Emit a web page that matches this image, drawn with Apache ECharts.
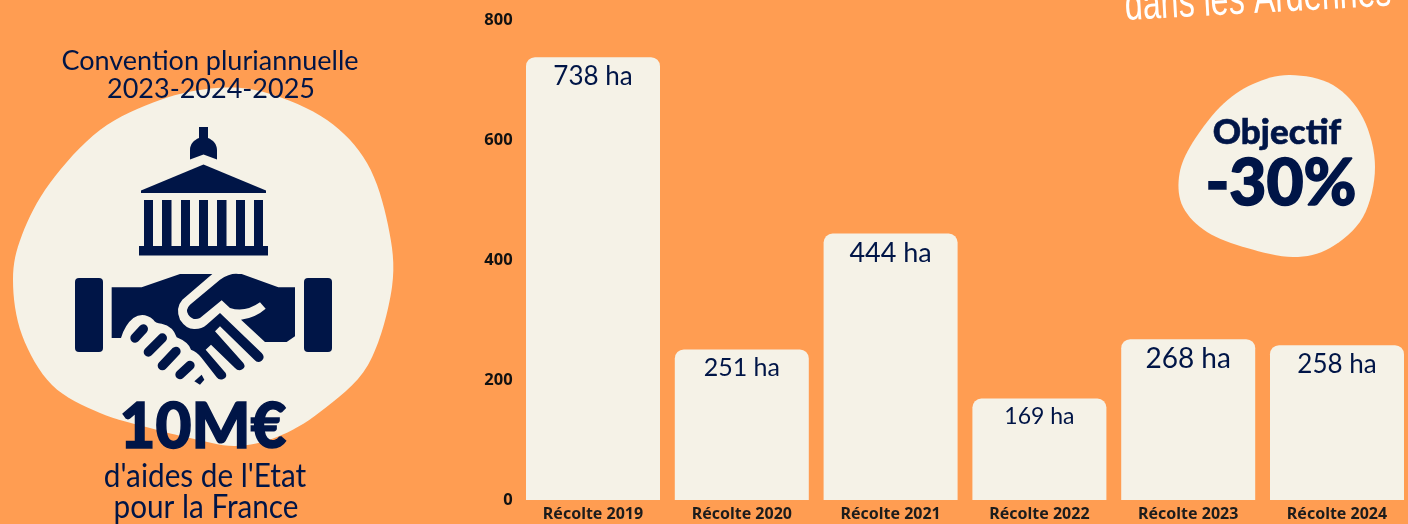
<!DOCTYPE html>
<html>
<head>
<meta charset="utf-8">
<style>html,body{margin:0;padding:0;background:#ff9d52;overflow:hidden}#main{width:1420px;height:524px}</style>
<script src="https://cdn.jsdelivr.net/npm/echarts@6/dist/echarts.min.js"></script>
</head>
<body>
<div id="main"></div>
<script>
var categories = ['Récolte 2019', 'Récolte 2020', 'Récolte 2021', 'Récolte 2022', 'Récolte 2023', 'Récolte 2024'];
var surfaces = [738, 251, 444, 169, 268, 258];
var yTicks = [0, 200, 400, 600, 800];
var labelSizes = [26, 25, 27, 23, 28, 26];

var orange = '#ff9d52', cream = '#f5f2e7', navy = '#001547';
var font = 'Lato';

// contour lisse (catmull-rom) pour les deux taches de fond
function blob(pts) {
    var n = pts.length, d = 'M' + pts[0][0] + ' ' + pts[0][1];
    for (var i = 0; i < n; i++) {
        var p0 = pts[(i + n - 1) % n], p1 = pts[i], p2 = pts[(i + 1) % n], p3 = pts[(i + 2) % n];
        d += 'C' + (p1[0] + (p2[0] - p0[0]) / 6).toFixed(1) + ' ' + (p1[1] + (p2[1] - p0[1]) / 6).toFixed(1) + ' ' +
            (p2[0] - (p3[0] - p1[0]) / 6).toFixed(1) + ' ' + (p2[1] - (p3[1] - p1[1]) / 6).toFixed(1) + ' ' + p2[0] + ' ' + p2[1];
    }
    return d + 'Z';
}
var leftBlob = [[217, 88], [267, 93], [327, 120], [367, 163], [388, 225], [392, 287], [368, 365], [320, 412], [277, 437], [235, 446], [190, 438], [150, 428], [100, 413], [52, 385], [22, 335], [13, 280], [22, 235], [50, 183], [100, 130], [160, 100]];
var rightBlob = [[1290, 75], [1333, 85], [1363, 118], [1375, 167], [1363, 217], [1330, 248], [1293, 257], [1247, 248], [1207, 232], [1183, 207], [1179, 177], [1190, 147], [1220, 107], [1253, 84]];

// le composant graphic ne connait pas "path" : on enregistre chaque trace comme une forme
var shapeCount = 0;
function path(d, fill, stroke, lw) {
    var name = 'deco' + (shapeCount++);
    echarts.graphic.registerShape(name, echarts.graphic.extendPath(d, {}));
    return { type: name, style: { fill: fill || 'none', stroke: stroke || 'none', lineWidth: lw || 0, lineCap: 'round', lineJoin: 'round' } };
}
function rect(x, y, w, h, r) {
    return { type: 'rect', shape: { x: x, y: y, width: w, height: h, r: r || 0 }, style: { fill: navy } };
}
function label(t, x, y, size, weight, sx, bold) {
    return {
        type: 'text', x: x, y: y, scaleX: sx || 1,
        style: { text: t, fill: navy, stroke: bold ? navy : 'none', lineWidth: bold || 0, font: (weight || 'normal') + ' ' + size + 'px "' + font + '"', align: 'center', verticalAlign: 'middle' }
    };
}

var building = [
    path('M199 127h9v11c5 2 9 6 9 12v9.500l-13.500-5-13.500 5V150c0-6 4-10 9-12z', navy),
    path('M203.500 164.500L266 190.500v2.500H141v-2.500z', navy),
    rect(144, 200, 9, 47), rect(162, 200, 9.500, 47), rect(181, 200, 9, 47), rect(199, 200, 9, 47), rect(217, 200, 9.500, 47), rect(236, 200, 9, 47), rect(254, 200, 9, 47),
    rect(139, 246, 129, 9.500),
    rect(75, 278, 28, 74, 4), rect(304, 278, 28, 74, 4)
];
// poignee de main, dessinee a l'echelle 3 puis reduite
var handshake = {
    type: 'group', x: 105, y: 268, scaleX: 1 / 3, scaleY: 1 / 3,
    children: [
        path('M20 58H110L225 18H322L232 95Q210 120 225 155Q245 185 270 183Q290 183 305 170L345 135L470 255Q482 268 470 278Q458 287 448 275L345 175L330 190L415 285Q424 297 412 304Q400 311 390 300L318 230L302 245L362 315Q368 327 355 333Q343 338 335 328L290 270Q275 250 258 245Q250 222 215 208Q205 175 170 167Q150 165 145 155Q115 130 85 150Q60 170 48 210H20Z', navy),
        path('M345 35Q375 15 400 18H410L520 58H570V205L545 222H480L408 155Q450 150 482 122L465 103Q420 135 375 120L350 97L285 150Q265 160 250 140Q240 125 255 110Z', navy),
        path('M90 210L115 183', null, navy, 28),
        path('M130 252L172 210', null, navy, 28),
        path('M172 293L213 250', null, navy, 28),
        path('M225 320L255 292', null, navy, 28),
        path('M268 340L290 320L298 335L285 350Z', navy)
    ]
};

var myChart = echarts.init(document.getElementById('main'));
myChart.setOption({
    backgroundColor: orange,
    animation: false,
    grid: { left: 518.6, top: 20, width: 892.8, height: 480 },
    xAxis: {
        type: 'category',
        data: categories,
        axisLine: { show: false },
        axisTick: { show: false },
        axisLabel: { color: '#1c1c1c', fontFamily: 'Noto Sans', fontWeight: 'bold', fontSize: 16, margin: 6, interval: 0 }
    },
    yAxis: {
        type: 'value',
        min: yTicks[0],
        max: yTicks[yTicks.length - 1],
        interval: 200,
        splitLine: { show: false },
        axisLine: { show: false },
        axisTick: { show: false },
        axisLabel: { color: '#111', fontFamily: 'Noto Sans', fontWeight: 'bold', fontSize: 16.5, margin: 6 }
    },
    series: [{
        type: 'bar',
        data: surfaces.map(function (v, i) {
            return { value: v, label: { fontSize: labelSizes[i] } };
        }),
        barWidth: 134,
        itemStyle: { color: cream, borderRadius: [9, 9, 0, 0] },
        label: {
            show: true,
            position: 'insideTop',
            distance: 6,
            formatter: '{c} ha',
            color: navy,
            fontFamily: font
        }
    }],
    graphic: [
        path(blob(leftBlob), cream),
        path(blob(rightBlob), cream)
    ].concat(building, [
        handshake,
        label('Convention pluriannuelle', 210, 61, 27),
        label('2023-2024-2025', 211, 89, 27),
        label('10M€', 203, 428, 62, 900, 1, 1.5),
        label("d'aides de l'Etat", 205, 476, 33, 'normal', 0.9),
        label('pour la France', 206, 507, 33, 'normal', 0.9),
        label('Objectif', 1277, 133, 35, 900, 1, 0.6),
        label('-30%', 1281, 184, 64, 900, 1, 1.5),
        {
            type: 'text', x: 1258, y: 0, rotation: 0.055, scaleX: 0.7,
            style: { text: 'dans les Ardennes', fill: '#fff', font: '46px "Liberation Sans"', align: 'center', verticalAlign: 'middle' }
        }
    ])
});
</script>
</body>
</html>
